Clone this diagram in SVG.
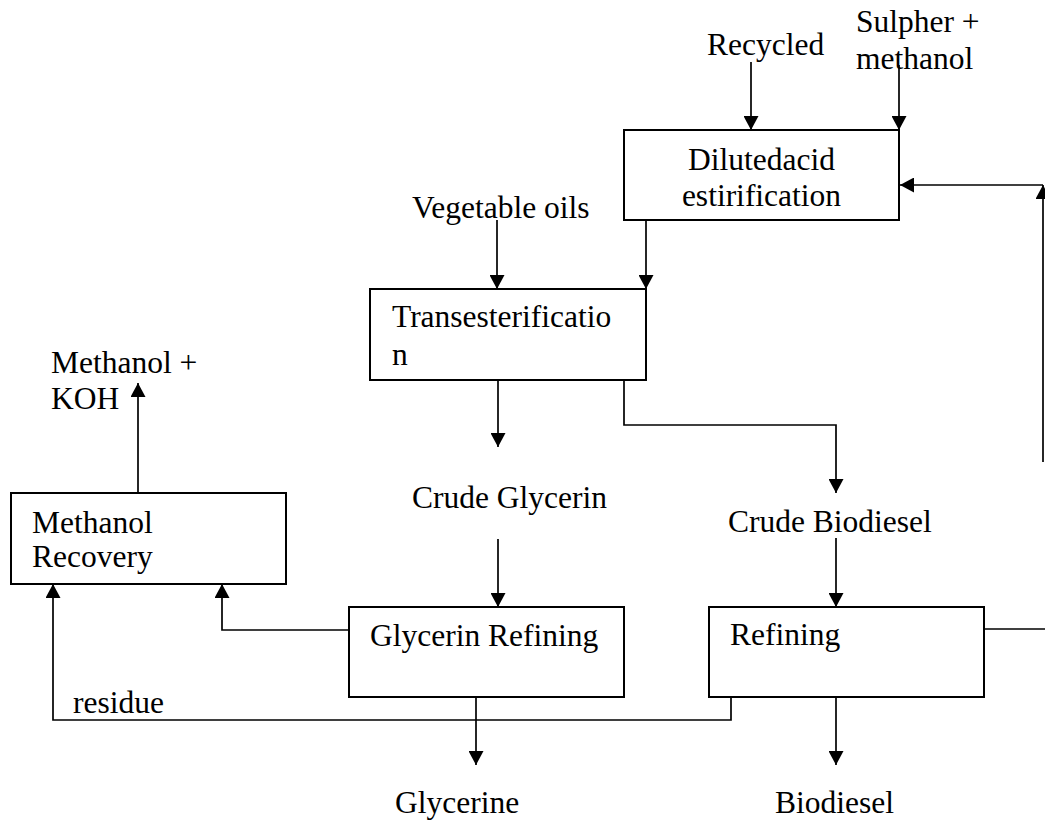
<svg xmlns="http://www.w3.org/2000/svg" width="1045" height="820" viewBox="0 0 1045 820">
<style>
.box{fill:#fff;stroke:#000;stroke-width:2}
.t{font-family:"Liberation Serif","Times New Roman",serif;font-size:31.5px;fill:#000}
.c{fill:none;stroke:#000;stroke-width:1.7}
.a{marker-end:url(#ah)}
</style>
<defs>
<marker id="ah" markerUnits="userSpaceOnUse" markerWidth="15" markerHeight="15" refX="14" refY="7.5" orient="auto" viewBox="0 0 15 15">
<path d="M0,0 L14,7.5 L0,15 z" fill="#000"/>
</marker>
</defs>
<rect width="1045" height="820" fill="#fff"/>
<g id="connectors">
<line class="c a" x1="751" y1="62" x2="751" y2="130"/>
<line class="c a" x1="899" y1="65" x2="899" y2="130"/>
<line class="c a" x1="497" y1="220" x2="497" y2="289"/>
<line class="c a" x1="646" y1="221" x2="646" y2="289"/>
<line class="c a" x1="498" y1="380" x2="498" y2="447"/>
<polyline class="c a" points="624,380 624,425 836,425 836,493"/>
<line class="c a" x1="498" y1="539" x2="498" y2="607"/>
<line class="c a" x1="836" y1="538" x2="836" y2="607"/>
<line class="c a" x1="138" y1="493" x2="138" y2="383"/>
<polyline class="c a" points="349,630 222,630 222,584"/>
<polyline class="c a" points="731,697 731,720 53,720 53,584"/>
<line class="c a" x1="476" y1="697" x2="476" y2="765"/>
<line class="c a" x1="836" y1="697" x2="836" y2="765"/>
<line class="c" x1="984" y1="629" x2="1045" y2="629"/>
<line class="c a" x1="1043" y1="462" x2="1043" y2="185"/>
<line class="c a" x1="1043" y1="185" x2="900" y2="185"/>
</g>
<g id="labels">
<text class="t" x="707" y="55">Recycled</text>
<text class="t" x="856" y="32">Sulpher +</text>
<text class="t" x="856" y="69">methanol</text>
<text class="t" x="412" y="218">Vegetable oils</text>
<text class="t" x="51" y="373">Methanol +</text>
<text class="t" x="51" y="409">KOH</text>
<text class="t" x="412" y="508">Crude Glycerin</text>
<text class="t" x="728" y="532">Crude Biodiesel</text>
<text class="t" x="73" y="713">residue</text>
<text class="t" x="395" y="813">Glycerine</text>
<text class="t" x="775" y="813">Biodiesel</text>
</g>
<g id="dilute">
<rect class="box" x="624" y="130" width="275" height="90"/>
<text class="t" x="761.5" y="170" text-anchor="middle">Dilutedacid</text>
<text class="t" x="761.5" y="206" text-anchor="middle">estirification</text>
</g>
<g id="trans">
<rect class="box" x="370" y="289" width="276" height="91"/>
<text class="t" x="392" y="327">Transesterificatio</text>
<text class="t" x="392" y="365">n</text>
</g>
<g id="methrec">
<rect class="box" x="11" y="493" width="275" height="91"/>
<text class="t" x="32" y="533">Methanol</text>
<text class="t" x="32" y="567">Recovery</text>
</g>
<g id="glyref">
<rect class="box" x="349" y="607" width="275" height="90"/>
<text class="t" x="370" y="646">Glycerin Refining</text>
</g>
<g id="refining">
<rect class="box" x="709" y="607" width="275" height="90"/>
<text class="t" x="730" y="645">Refining</text>
</g>
</svg>
